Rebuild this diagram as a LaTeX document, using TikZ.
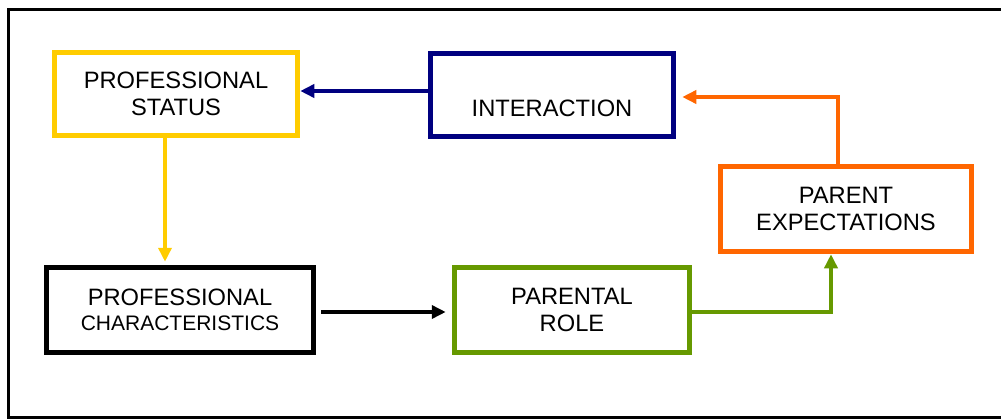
\documentclass[tikz,border=0pt]{standalone}
\usepackage{fontspec}
\setmainfont{Liberation Sans}
\usetikzlibrary{arrows.meta}
\definecolor{cyellow}{HTML}{FFCC00}
\definecolor{cnavy}{HTML}{000080}
\definecolor{corange}{HTML}{FF6600}
\definecolor{cgreen}{HTML}{669900}
\tikzset{
  box/.style={draw, line width=5.5pt, rectangle, align=center, inner sep=0pt,
    font=\fontsize{23.7}{27}\selectfont, text=black},
  conn/.style={line width=3.5pt, -{Triangle[length=14pt,width=13pt]}},
}
\begin{document}
\begin{tikzpicture}[x=1pt,y=-1pt]
\useasboundingbox (0,0) rectangle (1001,420);
\clip (0,0) rectangle (1001,420);
\draw[line width=3pt] (8.5,9.5) rectangle (1012,417.5);
\node[box, draw=cyellow, minimum width=243pt, minimum height=83pt] (ps) at (176,94) {PROFESSIONAL\\STATUS};
\node[box, draw=cnavy, minimum width=243pt, minimum height=83pt] (int) at (552,95) {\vphantom{PROFESSIONAL}\\INTERACTION};
\node[box, draw=corange, minimum width=251pt, minimum height=85pt] (pe) at (846,209) {PARENT\\EXPECTATIONS};
\node[box, draw=cgreen, minimum width=235pt, minimum height=85pt] (pr) at (572,310) {PARENTAL\\ROLE};
\node[box, draw=black, minimum width=267pt, minimum height=85pt] (pc) at (180,310) {PROFESSIONAL\\[-2pt]{\fontsize{21}{25}\selectfont CHARACTERISTICS}};
\draw[conn, cnavy] ([yshift=4pt]int.west) -- ([yshift=3pt]ps.east);
\draw[conn, corange, shorten >=6pt] ([xshift=-8pt]pe.north) |- ([yshift=-2pt]int.east);
\draw[conn, cgreen] ([yshift=-2pt]pr.east) -| ([xshift=-15pt]pe.south);
\draw[conn, cyellow, shorten >=3pt] ([xshift=-11pt]ps.south) -- ([xshift=-15pt]pc.north);
\draw[conn, black, shorten <=5pt, shorten >=6pt] ([yshift=-2pt]pc.east) -- ([yshift=-2pt]pr.west);
\end{tikzpicture}
\end{document}
